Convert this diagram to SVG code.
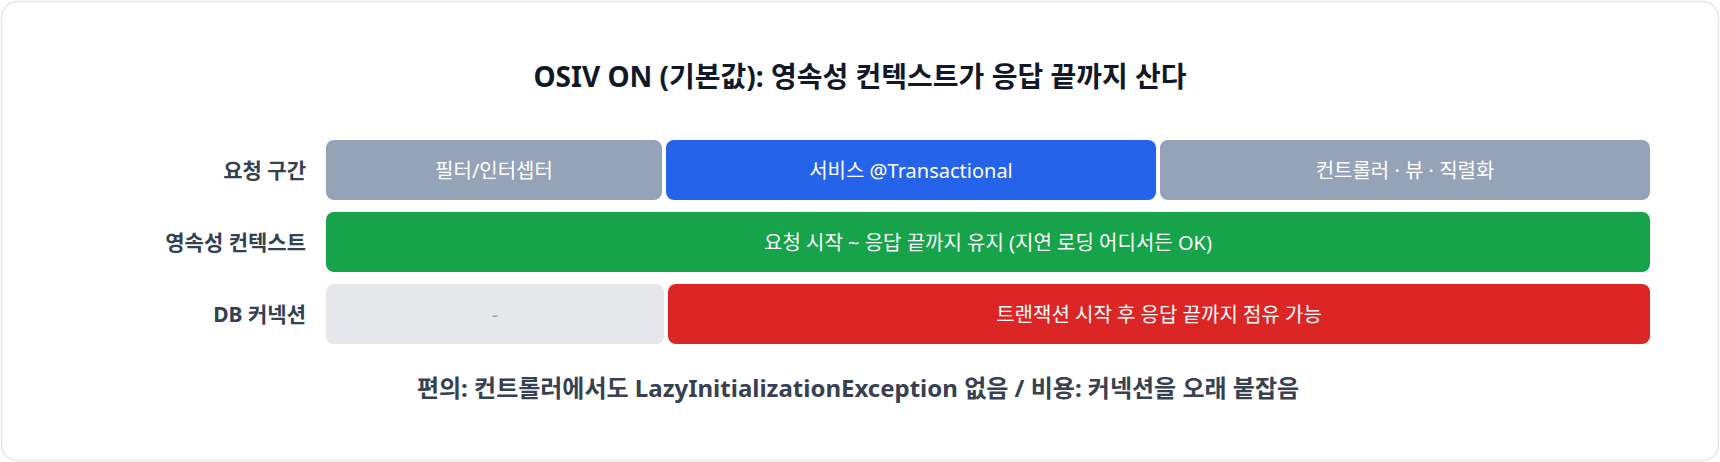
<svg xmlns="http://www.w3.org/2000/svg" width="1720" height="462" viewBox="0 0 1720 462">
<style>
  text{font-family:"Noto Sans","Noto Sans CJK KR",sans-serif}
  .title{font-size:28px;font-weight:700;fill:#111827;text-anchor:middle}
  .lbl{font-size:21px;font-weight:700;fill:#334155;text-anchor:end;dominant-baseline:central}
  .seg{font-size:20px;fill:#ffffff;text-anchor:middle;dominant-baseline:central}
  .dash{fill:#9ca3af}
  .foot{font-size:24px;font-weight:700;fill:#374151;text-anchor:middle}
</style>
<rect x="1.5" y="1.5" width="1717" height="459" rx="16" fill="#ffffff" stroke="#e5e7eb" stroke-width="1.5"/>
<text class="title" x="860" y="87">OSIV ON (기본값): 영속성 컨텍스트가 응답 끝까지 산다</text>

<g id="row-request">
  <text class="lbl" x="306" y="170">요청 구간</text>
  <g id="seg-filter">
    <rect x="326" y="140" width="336" height="60" rx="8" fill="#94a3b8"/>
    <text class="seg" x="494" y="170">필터/인터셉터</text>
  </g>
  <g id="seg-service">
    <rect x="666" y="140" width="490" height="60" rx="8" fill="#2563eb"/>
    <text class="seg" x="911" y="170">서비스 @Transactional</text>
  </g>
  <g id="seg-controller">
    <rect x="1160" y="140" width="490" height="60" rx="8" fill="#94a3b8"/>
    <text class="seg" x="1405" y="170">컨트롤러 · 뷰 · 직렬화</text>
  </g>
</g>

<g id="row-context">
  <text class="lbl" x="306" y="242">영속성 컨텍스트</text>
  <g id="seg-context">
    <rect x="326" y="212" width="1324" height="60" rx="8" fill="#16a34a"/>
    <text class="seg" x="988" y="242">요청 시작 ~ 응답 끝까지 유지 (지연 로딩 어디서든 OK)</text>
  </g>
</g>

<g id="row-db">
  <text class="lbl" x="306" y="314">DB 커넥션</text>
  <g id="seg-none">
    <rect x="326" y="284" width="338" height="60" rx="8" fill="#e5e7eb"/>
    <text class="seg dash" x="495" y="314">-</text>
  </g>
  <g id="seg-conn">
    <rect x="668" y="284" width="982" height="60" rx="8" fill="#dc2626"/>
    <text class="seg" x="1159" y="314">트랜잭션 시작 후 응답 끝까지 점유 가능</text>
  </g>
</g>

<g id="connectors"></g>

<text class="foot" x="858" y="397">편의: 컨트롤러에서도 LazyInitializationException 없음 / 비용: 커넥션을 오래 붙잡음</text>
</svg>
